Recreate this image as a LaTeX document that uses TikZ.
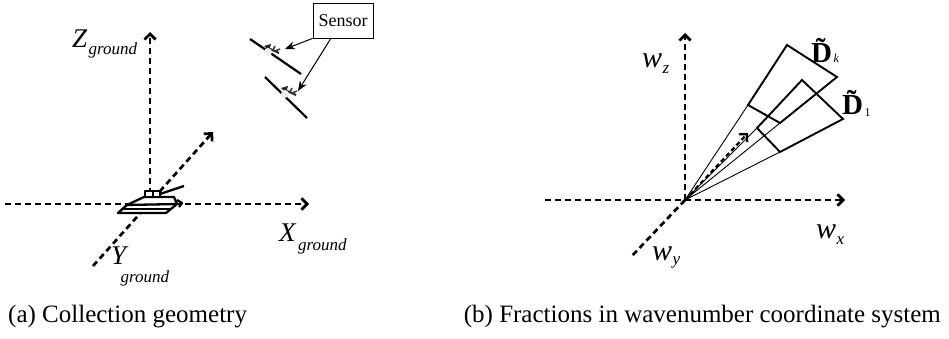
\documentclass[tikz,border=0pt]{standalone}
\usepackage{fontspec}
\setmainfont{Liberation Serif}
\usetikzlibrary{arrows.meta,calc}
\begin{document}
\begin{tikzpicture}[x=1pt,y=-1pt,
  axis/.style={line width=2.7pt, dash pattern=on 6pt off 4pt},
  axisarrow/.style={axis, -{Straight Barb[angle=90:8pt]}},
  tankline/.style={line width=2.3pt, line join=round},
  thinray/.style={line width=0.9pt},
  sector/.style={line width=1.9pt, line join=miter},
  lbl/.style={inner sep=0pt, anchor=base west},
  biglbl/.style={lbl, font=\fontsize{27}{27}\selectfont\itshape},
  sublbl/.style={lbl, font=\fontsize{17}{17}\selectfont\itshape},
  captext/.style={lbl, font=\fontsize{25}{25}\selectfont},
  sensorline/.style={line width=2.2pt},
  callout/.style={line width=1pt, -{Stealth[length=10pt,width=8pt]}}
]
\useasboundingbox (0,0) rectangle (949,339);

% ---------------- (a) ground frame ----------------
\coordinate (O1) at (150,204);
\coordinate (ztip) at (150,32);
\coordinate (xstart) at (5,204);
\coordinate (xtip) at (309,204);
\coordinate (ystart) at (93,266);
\coordinate (ytip) at (213,132);
\draw[axisarrow] (O1) -- (ztip);
\draw[axisarrow] (xstart) -- (xtip);
\draw[axisarrow] (ystart) -- (ytip);

% tank at the origin
\filldraw[tankline, fill=white] (118,213) -- (127,205) -- (144,197) -- (174,197) -- (177,204) -- (166,213) -- cycle;
\draw[tankline] (127,205) -- (177,204);
\draw[tankline] (121,209) -- (171,209);
\draw[tankline] (177,200) -- (182,203) -- (179,207);
\filldraw[tankline, fill=white] (145,191) rectangle (160,197);
\draw[tankline] (153,191) -- (153,197);
\draw[tankline] (160,194) -- (184,186);

% axis labels
\node[biglbl] (zl) at (72,48) {Z};
\node[sublbl] at ($(zl.base east)+(1,7)$) {ground};
\node[biglbl] (xl) at (279,241) {X};
\node[sublbl] at ($(xl.base east)+(2,9)$) {ground};
\node[biglbl] (yl) at (111,264) {Y};
\node[sublbl] at ($(yl.base east)+(-6,18)$) {ground};

% sensor platforms
\coordinate (s1a) at (250,39);
\coordinate (s1b) at (301,74);
\coordinate (s2a) at (265,77);
\coordinate (s2b) at (307,118);
\draw[sensorline] (s1a) -- (s1b);
\draw[sensorline] (s2a) -- (s2b);
\foreach \cx/\cy in {272/50, 289/92} {
  \begin{scope}[shift={(\cx,\cy)}]
    \fill[black!85] (-8,-4) -- (-1,-6) -- (-3,1) -- cycle;
    \draw[line width=2pt, black!85] (-4,-2) -- (7,3);
    \draw[line width=1.6pt, black!75] (1,0) -- (3,-4) (3,1) -- (8,-1);
    \fill[black!8] (-4,2) circle (4pt);
  \end{scope}
}
\node[draw, line width=0.8pt, minimum width=60pt, minimum height=35pt,
      inner sep=0pt, font=\fontsize{18}{18}\selectfont] (sensor) at (343,20.5) {Sensor};
\coordinate (t1) at (285,49);
\coordinate (t2) at (298,91);
\draw[callout] (sensor.south west) -- (t1);
\draw[callout] ($(sensor.south west)!0.3!(sensor.south east)$) -- (t2);

\node[captext] (capa) at (8,322) {(a) Collection geometry};

% ---------------- (b) wavenumber frame ----------------
\coordinate (O2) at (685,200);
\coordinate (wztip) at (685,33);
\coordinate (wxstart) at (545,200);
\coordinate (wxtip) at (845,200);
\coordinate (wyend) at (630,258);
\coordinate (wtip) at (748,133);
\draw[axisarrow] (O2) -- (wztip);
\draw[axisarrow] (wxstart) -- (wxtip);
\draw[axis] (O2) -- (wyend);
\draw[axisarrow, line width=2.2pt, dash pattern=on 4.5pt off 3pt] (O2) -- (wtip);

% fraction D_k
\coordinate (k1) at (748,105);
\coordinate (k2) at (787,45);
\coordinate (k3) at (837,77);
\coordinate (k4) at (780,123);
% fraction D_1
\coordinate (f1) at (757,128);
\coordinate (f2) at (802,80);
\coordinate (f3) at (843,119);
\coordinate (f4) at (780,152);
\draw[thinray] (O2) -- (k1) (O2) -- (k4) (O2) -- (f1) (O2) -- (f4);
\draw[sector] (k1) -- (k2) -- (k3) -- (k4) -- cycle;
\draw[sector] (f1) -- (f2) -- (f3) -- (f4) -- cycle;

% labels
\node[biglbl, font=\fontsize{30}{30}\selectfont\itshape] (wz) at (642,68) {w};
\node[sublbl] at ($(wz.base east)+(0,6)$) {z};
\node[biglbl, font=\fontsize{30}{30}\selectfont\itshape] (wx) at (816,238) {w};
\node[sublbl] at ($(wx.base east)+(0,6)$) {x};
\node[biglbl, font=\fontsize{30}{30}\selectfont\itshape] (wy) at (652,260) {w};
\node[sublbl] at ($(wy.base east)+(0,4)$) {y};
\node[lbl, font=\fontsize{29}{29}\selectfont\bfseries] (dk) at (811,63) {\~{D}};
\node[lbl, font=\fontsize{12}{12}\selectfont\itshape] at ($(dk.base east)+(1,0)$) {k};
\node[lbl, font=\fontsize{29}{29}\selectfont\bfseries] (d1) at (842,115) {\~{D}};
\node[lbl, font=\fontsize{12}{12}\selectfont] at ($(d1.base east)+(1,2)$) {1};

\node[captext, anchor=base east] (capb) at (941,322) {(b) Fractions in wavenumber coordinate system};
\end{tikzpicture}
\end{document}
